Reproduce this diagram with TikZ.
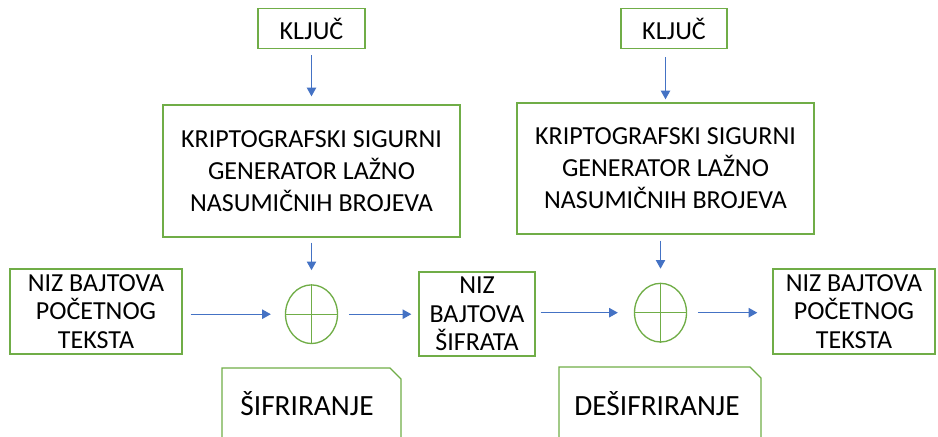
\documentclass[tikz,border=0pt]{standalone}
\usepackage{fontspec}
\setmainfont{Carlito}
\usetikzlibrary{positioning, shapes.geometric, arrows.meta}

\definecolor{boxgreen}{RGB}{112,173,71}
\definecolor{arrblue}{RGB}{68,114,196}

\begin{document}
\begin{tikzpicture}[x=0.75pt, y=-0.75pt,
    green-box/.style={draw=boxgreen, line width=1pt, align=center, inner sep=0pt,
      font=\fontsize{19.5}{21.4}\selectfont},
    gen-box/.style={green-box, minimum width=222.75pt, font=\fontsize{19.5}{24}\selectfont},
    xor-op/.style={draw=boxgreen, line width=1pt, ellipse, inner sep=0pt,
      minimum width=39pt, minimum height=44pt},
    blue-arr/.style={arrblue, line width=0.9pt, -{Triangle[length=6.5pt, width=7pt]}},
    tag-text/.style={font=\fontsize{22}{26}\selectfont, inner sep=0pt}
  ]
  \useasboundingbox (0,0) rectangle (938,436);
  \clip (0,0) rectangle (938,436);

  % encryption side
  \node[gen-box, minimum height=99pt] (genA) at (311.5,171)
    {KRIPTOGRAFSKI SIGURNI\\GENERATOR LAŽNO\\NASUMIČNIH BROJEVA};
  \node[green-box, minimum width=80.25pt, minimum height=30pt, above=41.25pt of genA] (keyA) {KLJUČ};
  \node[xor-op, below=34.9pt of genA] (xorA) {};
  \draw[boxgreen, line width=1pt] (xorA.north) -- (xorA.south) (xorA.west) -- (xorA.east);

  \node[green-box, minimum width=129pt, minimum height=63.75pt] (plainA) at (96,311.5)
    {NIZ BAJTOVA\\POČETNOG\\TEKSTA};
  \node[green-box, minimum width=87pt, minimum height=63pt] (ciph) at (477,314)
    {NIZ\\BAJTOVA\\ŠIFRATA};

  % decryption side
  \node[gen-box, minimum height=98.25pt] (genB) at (665.5,168.5)
    {KRIPTOGRAFSKI SIGURNI\\GENERATOR LAŽNO\\NASUMIČNIH BROJEVA};
  \node[green-box, minimum width=79.5pt, minimum height=30pt, above=39.75pt of genB, xshift=6.4pt] (keyB) {KLJUČ};
  \node[xor-op, below=36pt of genB, xshift=-3.75pt] (xorB) {};
  \draw[boxgreen, line width=1pt] (xorB.north) -- (xorB.south) (xorB.west) -- (xorB.east);

  \node[green-box, minimum width=121.5pt, minimum height=63.75pt] (plainB) at (854,311.5)
    {NIZ BAJTOVA\\POČETNOG\\TEKSTA};

  % arrows
  \draw[blue-arr, shorten <=4.5pt, shorten >=6pt] (keyA.south) -- (keyA.south |- genA.north);
  \draw[blue-arr, shorten <=3.75pt, shorten >=10.5pt] (genA.south) -- (xorA.north);
  \draw[blue-arr, shorten <=6pt, shorten >=10.5pt] (plainA.east |- xorA) -- (xorA.west);
  \draw[blue-arr, shorten <=8pt, shorten >=5.25pt] (xorA.east) -- (ciph.west |- xorA);
  \draw[blue-arr, shorten <=6pt, shorten >=2.25pt] (genB.north |- keyB.south) -- (genB.north);
  \draw[blue-arr, shorten <=4.5pt, shorten >=10.5pt] (genB.south -| xorB) -- (xorB.north);
  \draw[blue-arr, shorten <=3.75pt, shorten >=12pt] (ciph.east |- xorB) -- (xorB.west);
  \draw[blue-arr, shorten <=8pt, shorten >=11.25pt] (xorB.east) -- (plainB.west |- xorB);

  % labels
  \draw[boxgreen, line width=1pt] (222,440) -- (222,368) -- (390,368) -- (401,379) -- (401,440);
  \node[tag-text, anchor=base] (encLbl) at (307,415) {ŠIFRIRANJE};
  \draw[boxgreen, line width=1pt] (559,440) -- (559,367) -- (750,367) -- (761,378) -- (761,440);
  \node[tag-text, anchor=base] (decLbl) at (657,415) {DEŠIFRIRANJE};
\end{tikzpicture}
\end{document}
